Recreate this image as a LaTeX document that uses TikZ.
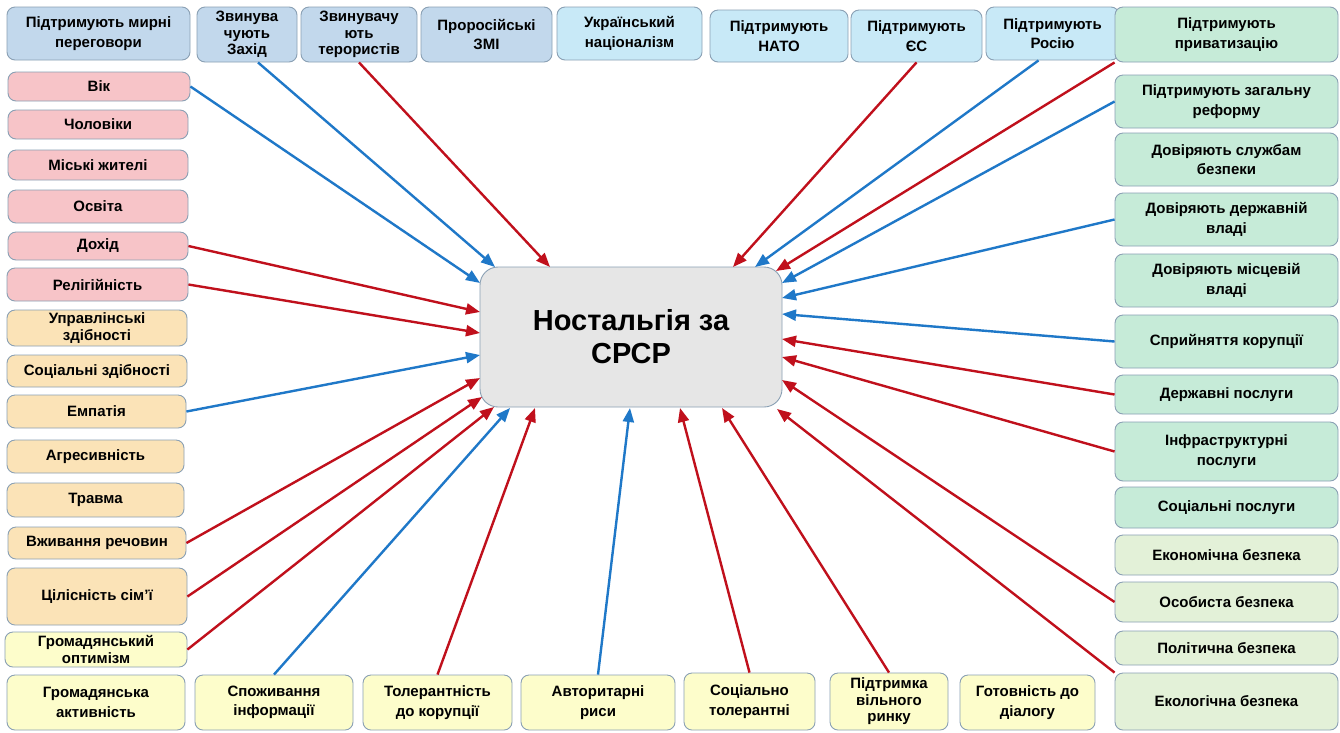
\documentclass[tikz,border=0pt]{standalone}
\usepackage{fontspec}
\setmainfont{Liberation Sans}
\usetikzlibrary{arrows.meta}
\definecolor{topA}{HTML}{C2D8EC}
\definecolor{topB}{HTML}{C8E9F7}
\definecolor{pinkc}{HTML}{F7C4C8}
\definecolor{beigec}{HTML}{FBE3B7}
\definecolor{yelc}{HTML}{FDFDCB}
\definecolor{greenc}{HTML}{C6EBD8}
\definecolor{lgreenc}{HTML}{E3F1D8}
\definecolor{centc}{HTML}{E6E6E6}
\definecolor{edgec}{HTML}{8AA0B4}
\definecolor{bluea}{HTML}{1F78C8}
\definecolor{reda}{HTML}{C0101C}
\tikzset{
  box/.style={draw=edgec, line width=0.9pt, rounded corners=8pt, align=center, inner sep=1pt,
    font=\fontsize{15}{19.5}\selectfont\bfseries},
  tight/.style={font=\fontsize{15}{16.5}\selectfont\bfseries},
  arr/.style={line width=2.4pt, -{Triangle[length=14pt,width=11pt]}},
  barr/.style={arr, draw=bluea, fill=bluea},
  rarr/.style={arr, draw=reda, fill=reda}
}
\newcommand\bx[7]{\node[box,#6,minimum width={#4pt-#2pt},minimum height={#5pt-#3pt}] (#1) at ({(#2+#4)/2},{(#3+#5)/2}) {#7};}
\begin{document}
\begin{tikzpicture}[x=1pt,y=-1pt]
\useasboundingbox[fill=white] (0,0) rectangle (1340,732);
% top row
\bx{T1}{7}{7}{190}{60}{fill=topA}{Підтримують мирні\\переговори}
\bx{T2}{197}{7}{297}{62}{fill=topA,tight}{Звинува\\чують\\Захід}
\bx{T3}{301}{7}{417}{62}{fill=topA,tight}{Звинувачу\\ють\\терористів}
\bx{T4}{421}{7}{552}{62}{fill=topA}{Проросійські\\ЗМІ}
\bx{T5}{557}{7}{702}{60}{fill=topB}{Український\\націоналізм}
\bx{T6}{710}{10}{848}{62}{fill=topB}{Підтримують\\НАТО}
\bx{T7}{851}{10}{982}{62}{fill=topB}{Підтримують\\ЄС}
\bx{T8}{986}{7}{1119}{60}{fill=topB}{Підтримують\\Росію}
\bx{T9}{1115}{7}{1338}{62}{fill=greenc}{Підтримують\\приватизацію}
% left column
\bx{L1}{8}{72}{190}{101}{fill=pinkc}{Вік}
\bx{L2}{8}{110}{188}{139}{fill=pinkc}{Чоловіки}
\bx{L3}{8}{150}{188}{180}{fill=pinkc}{Міські жителі}
\bx{L4}{8}{190}{188}{223}{fill=pinkc}{Освіта}
\bx{L5}{8}{232}{188}{260}{fill=pinkc}{Дохід}
\bx{L6}{7}{268}{188}{301}{fill=pinkc}{Релігійність}
\bx{L7}{7}{310}{187}{346}{fill=beigec,tight}{Управлінські\\здібності}
\bx{L8}{7}{355}{187}{387}{fill=beigec}{Соціальні здібності}
\bx{L9}{7}{395}{186}{428}{fill=beigec}{Емпатія}
\bx{L10}{7}{440}{184}{473}{fill=beigec}{Агресивність}
\bx{L11}{7}{483}{184}{517}{fill=beigec}{Травма}
\bx{L12}{8}{527}{186}{559}{fill=beigec}{Вживання речовин}
\bx{L13}{7}{568}{187}{625}{fill=beigec}{Цілісність сім'ї}
\bx{L14}{5}{632}{187}{667}{fill=yelc,tight}{Громадянський\\оптимізм}
% bottom row
\bx{B1}{7}{675}{185}{730}{fill=yelc}{Громадянська\\активність}
\bx{B2}{195}{675}{353}{730}{fill=yelc}{Споживання\\інформації}
\bx{B3}{363}{675}{512}{730}{fill=yelc}{Толерантність\\до корупції}
\bx{B4}{521}{675}{675}{730}{fill=yelc}{Авторитарні\\риси}
\bx{B5}{684}{673}{815}{730}{fill=yelc}{Соціально\\толерантні}
\bx{B6}{830}{673}{948}{730}{fill=yelc,tight}{Підтримка\\вільного\\ринку}
\bx{B7}{960}{675}{1095}{730}{fill=yelc}{Готовність до\\діалогу}
% right column
\bx{R1}{1115}{75}{1338}{128}{fill=greenc}{Підтримують загальну\\реформу}
\bx{R2}{1115}{133}{1338}{186}{fill=greenc}{Довіряють службам\\безпеки}
\bx{R3}{1115}{193}{1338}{246}{fill=greenc}{Довіряють державній\\владі}
\bx{R4}{1115}{254}{1338}{307}{fill=greenc}{Довіряють місцевій\\владі}
\bx{R5}{1115}{315}{1338}{368}{fill=greenc}{Сприйняття корупції}
\bx{R6}{1115}{375}{1338}{414}{fill=greenc}{Державні послуги}
\bx{R7}{1115}{422}{1338}{481}{fill=greenc}{Інфраструктурні\\послуги}
\bx{R8}{1115}{487}{1338}{528}{fill=greenc}{Соціальні послуги}
\bx{R9}{1115}{535}{1338}{575}{fill=lgreenc}{Економічна безпека}
\bx{R10}{1115}{582}{1338}{622}{fill=lgreenc}{Особиста безпека}
\bx{R11}{1115}{631}{1338}{665}{fill=lgreenc}{Політична безпека}
\bx{R12}{1115}{673}{1338}{730}{fill=lgreenc}{Екологічна безпека}
% centre
\node[draw=edgec, line width=0.9pt, fill=centc, rounded corners=18pt, align=center,
  minimum width=302pt, minimum height=140pt,
  font=\fontsize{29}{33}\selectfont\bfseries] (C) at (631,337) {Ностальгія за\\СРСР};
% arrow end points on the centre box
\coordinate (eL1) at (480,283);
\coordinate (eT2) at (495,267);
\coordinate (eT3) at (550,267);
\coordinate (eT7) at (733,267);
\coordinate (eT8) at (755,267);
\coordinate (eT9) at (776,271);
\coordinate (eR1) at (782,283);
\coordinate (eR3) at (782,298);
\coordinate (eR5) at (782,314);
\coordinate (eR6) at (782,339);
\coordinate (eR7) at (782,357);
\coordinate (eR10) at (782,380);
\coordinate (eR12) at (777,409);
\coordinate (eB6) at (722,408);
\coordinate (eB5) at (680,408);
\coordinate (eB4) at (630,408);
\coordinate (eB3) at (535,408);
\coordinate (eB2) at (510,408);
\coordinate (eL14) at (494,407);
\coordinate (eL13) at (482,397);
\coordinate (eL12) at (480,378);
\coordinate (eL9) at (480,355);
\coordinate (eL6) at (480,333);
\coordinate (eL5) at (480,312);
% arrows
\draw[barr] (L1.east) -- (eL1);
\draw[barr] ([xshift=11pt]T2.south) -- (eT2);
\draw[rarr] (T3.south) -- (eT3);
\draw[rarr] (T7.south) -- (eT7);
\draw[barr] ([xshift=-14pt]T8.south) -- (eT8);
\draw[rarr] (T9.south west) -- (eT9);
\draw[barr] (R1.west) -- (eR1);
\draw[barr] (R3.west) -- (eR3);
\draw[barr] (R5.west) -- (eR5);
\draw[rarr] (R6.west) -- (eR6);
\draw[rarr] (R7.west) -- (eR7);
\draw[rarr] (R10.west) -- (eR10);
\draw[rarr] (R12.north west) -- (eR12);
\draw[rarr] (B6.north) -- (eB6);
\draw[rarr] (B5.north) -- (eB5);
\draw[barr] (B4.north) -- (eB4);
\draw[rarr] (B3.north) -- (eB3);
\draw[barr] (B2.north) -- (eB2);
\draw[rarr] (L14.east) -- (eL14);
\draw[rarr] (L13.east) -- (eL13);
\draw[rarr] (L12.east) -- (eL12);
\draw[barr] (L9.east) -- (eL9);
\draw[rarr] (L6.east) -- (eL6);
\draw[rarr] (L5.east) -- (eL5);
\end{tikzpicture}
\end{document}
